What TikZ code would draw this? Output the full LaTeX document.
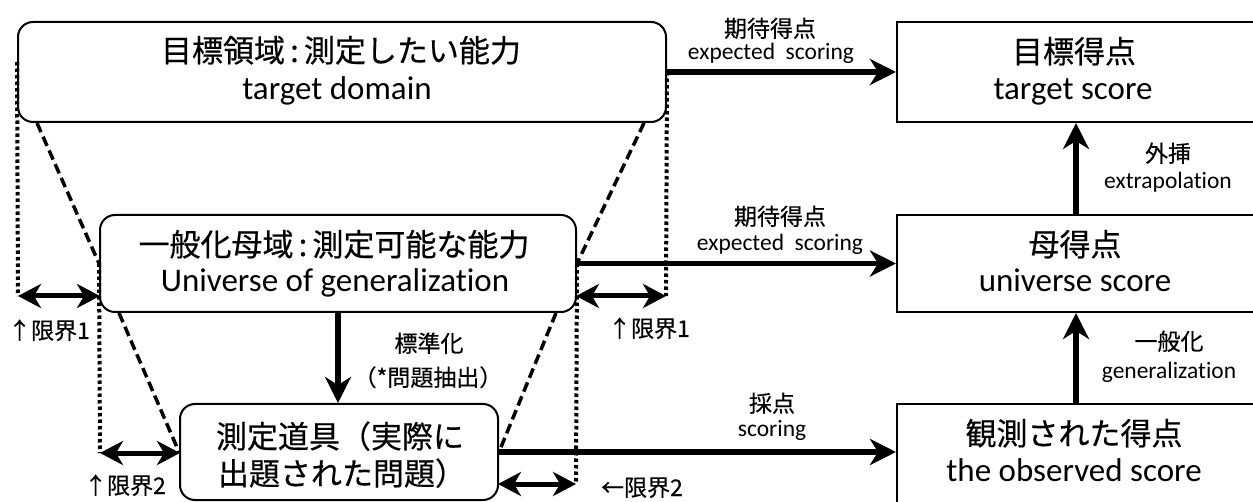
\documentclass[tikz,border=0pt]{standalone}
\usepackage{fontspec}
\setmainfont{Carlito}[Ligatures=NoCommon]
\newfontfamily\jp{Noto Sans CJK JP}[FakeBold=0.4]
\usetikzlibrary{arrows.meta}
\tikzset{
  rbox/.style={draw, line width=2pt, rounded corners=15pt, inner sep=0pt},
  sbox/.style={draw, line width=2pt, inner sep=0pt},
  jpL/.style={font=\jp\fontsize{31}{36}\selectfont, inner sep=0pt, anchor=base},
  enL/.style={font=\fontsize{33}{40}\selectfont, inner sep=0pt, anchor=base},
  jpS/.style={font=\jp\fontsize{23}{28}\selectfont, inner sep=0pt, anchor=base},
  enS/.style={font=\fontsize{23.5}{28}\selectfont, inner sep=0pt, anchor=base},
  arr/.style={line width=5.5pt, -{Stealth[length=26pt, width=26pt, inset=8pt]}},
  dbl/.style={line width=5pt, {Stealth[length=23pt, width=24pt, inset=7pt]}-{Stealth[length=23pt, width=24pt, inset=7pt]}},
  dashline/.style={line width=3.5pt, dash pattern=on 10pt off 5pt},
  dotline/.style={line width=4pt, dash pattern=on 3.5pt off 3pt},
}
\begin{document}
\begin{tikzpicture}[x=1pt,y=-1pt]
\useasboundingbox (0,0) rectangle (1253,502);
\clip (0,0) rectangle (1253,502);
\fill[white] (0,0) rectangle (1253,502);

% left boxes
\node[rbox, minimum width=648pt, minimum height=100pt] (TD) at (342,72) {};
\node[rbox, minimum width=476pt, minimum height=97pt] (UG) at (338,263.5) {};
\node[rbox, minimum width=318pt, minimum height=96pt] (MT) at (339,452) {};
% right boxes
\node[sbox, minimum width=358pt, minimum height=100pt] (TS) at (1076,72) {};
\node[sbox, minimum width=358pt, minimum height=97pt] (US) at (1076,263.5) {};
\node[sbox, minimum width=358pt, minimum height=102pt] (OS) at (1076,455) {};

% box texts
\node[jpL] (TDj) at (341,62) {目標領域\,:\,測定したい能力};
\node[enL] (TDe) at (337,100) {target domain};
\node[jpL] (UGj) at (334,256) {一般化母域\,:\,測定可能な能力};
\node[enL] (UGe) at (335,292) {Universe of generalization};
\node[jpL] (MTj1) at (340,448) {測定道具（実際に};
\node[jpL] (MTj2) at (342,485) {出題された問題）};
\node[jpL] (TSj) at (1074,63) {目標得点};
\node[enL] (TSe) at (1073,100) {target score};
\node[jpL] (USj) at (1075,256) {母得点};
\node[enL] (USe) at (1075,292) {universe score};
\node[jpL] (OSj) at (1074,445) {観測された得点};
\node[enL] (OSe) at (1074,481) {the observed score};

% named coordinates for limit arrows
\coordinate (L1a) at (18,296);
\coordinate (L1b) at (100,296);
\coordinate (R1a) at (576,296);
\coordinate (R1b) at (666,296);
\coordinate (L2a) at (100,453);
\coordinate (L2b) at (180,453);
\coordinate (R2a) at (498,484);
\coordinate (R2b) at (576,484);

% dashed trapezoid lines
\draw[dashline] ([xshift=20pt]TD.south west) -- (UG.west);
\draw[dashline] ([xshift=20pt]UG.south west) -- (MT.west);
\draw[dashline] ([xshift=-23pt]TD.south east) -- (UG.east);
\draw[dashline] ([xshift=-21pt]UG.south east) -- (MT.east);

% dotted lines
\draw[dotline] ([yshift=10pt]TD.west) -- (L1a);
\draw[dotline] (UG.west) -- (L2a);
\draw[dotline] (TD.east) -- (R1b);
\draw[dotline] (UG.east) -- (R2b);

% limit arrows
\draw[dbl] (L1a) -- (L1b);
\draw[dbl] (R1a) -- (R1b);
\draw[dbl] (L2a) -- (L2b);
\draw[dbl] (R2a) -- (R2b);

% main arrows
\draw[arr] (TD.east) -- (TD.east -| TS.west);
\draw[arr] (UG.east) -- (UG.east -| US.west);
\draw[arr] (MT.east) -- (MT.east -| OS.west);
\draw[arr] (US.north) -- (TS.south);
\draw[arr] (OS.north) -- (US.south);
\draw[arr] (UG.south) -- (UG.south |- MT.north);

% arrow labels
\node[jpS] (l1j) at (770,37) {期待得点};
\node[enS] (l1e) at (771,60) {expected\hspace{.45em}scoring};
\node[jpS] (l2j) at (780,225) {期待得点};
\node[enS] (l2e) at (780,251) {expected\hspace{.45em}scoring};
\node[jpS] (l3j) at (772,412) {採点};
\node[enS] (l3e) at (772,436) {scoring};
\node[jpS] (l4j) at (1168,162) {外挿};
\node[enS] (l4e) at (1168,189) {extrapolation};
\node[jpS] (l5j) at (1169,350) {一般化};
\node[enS] (l5e) at (1169,379) {generalization};
\node[jpS] (l6j) at (429,352) {標準化};
\node[jpS] (l6e) at (428,386) {（*問題抽出）};

% limit labels
\node[jpS] (g1) at (49,339) {↑限界1};
\node[jpS] (g2) at (125,494) {↑限界2};
\node[jpS] (g3) at (649,337) {↑限界1};
\node[jpS] (g4) at (642,496) {←限界2};
\end{tikzpicture}
\end{document}
